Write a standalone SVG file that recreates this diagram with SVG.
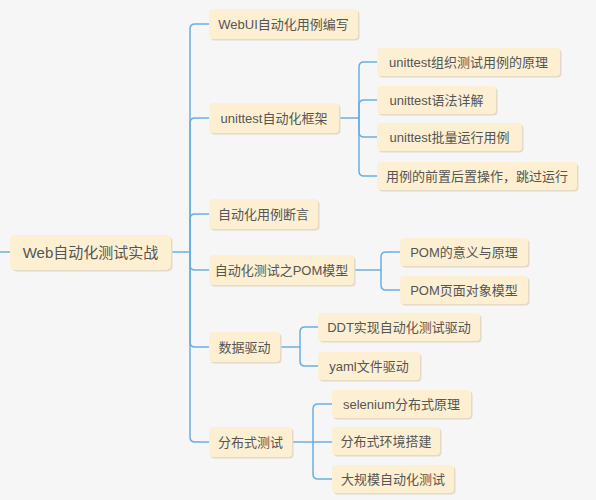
<svg xmlns="http://www.w3.org/2000/svg" width="596" height="500" viewBox="0 0 596 500">
<defs>
<style>
.bg{fill:#f6f6f6}
.box{fill:#fdf0d2;stroke:none}
.sh{fill:#e4dac6}
.t{font-family:"Liberation Sans","Noto Sans CJK SC",sans-serif;font-size:13px;fill:#555;text-anchor:middle;dominant-baseline:central}
.root{font-size:15px}
.c{fill:none;stroke:#6aaedf;stroke-width:1.5}
</style>
</defs>
<rect class="bg" x="0" y="0" width="596" height="500"/>
<g id="connectors">
<path class="c" d="M0 252 H10"/>
<path class="c" d="M171 252 H190 V29 Q190 24 195 24 H209"/>
<path class="c" d="M190 252 V123 Q190 118 195 118 H209"/>
<path class="c" d="M190 252 V219 Q190 214 195 214 H209"/>
<path class="c" d="M190 252 V265 Q190 270 195 270 H209"/>
<path class="c" d="M190 252 V342 Q190 347 195 347 H209"/>
<path class="c" d="M190 252 V437 Q190 442 195 442 H209"/>
<path class="c" d="M339 118 H359 V67 Q359 62 364 62 H377"/>
<path class="c" d="M359 118 V105 Q359 100 364 100 H377"/>
<path class="c" d="M359 118 V132 Q359 137 364 137 H377"/>
<path class="c" d="M359 118 V171 Q359 176 364 176 H377"/>
<path class="c" d="M354 270 H381 V257 Q381 252 386 252 H400"/>
<path class="c" d="M381 270 V285 Q381 290 386 290 H400"/>
<path class="c" d="M280 347 H300 V332 Q300 327 305 327 H318"/>
<path class="c" d="M300 347 V361 Q300 366 305 366 H318"/>
<path class="c" d="M292 442 H313 V409 Q313 404 318 404 H332"/>
<path class="c" d="M313 442 H332"/>
<path class="c" d="M313 442 V474 Q313 479 318 479 H332"/>
</g>
<g id="root"><rect class="sh" x="11.5" y="236.5" width="161" height="35" rx="5"/><rect class="box" x="10" y="235" width="161" height="35" rx="5"/><text class="t root" x="90.5" y="252.5">Web自动化测试实战</text></g>
<g id="n-webui"><rect class="sh" x="210.5" y="10.5" width="149" height="30" rx="4"/><rect class="box" x="209" y="9" width="149" height="30" rx="4"/><text class="t" x="283.5" y="24">WebUI自动化用例编写</text></g>
<g id="n-unittest"><rect class="sh" x="210.5" y="104.5" width="130" height="30" rx="4"/><rect class="box" x="209" y="103" width="130" height="30" rx="4"/><text class="t" x="274" y="118">unittest自动化框架</text></g>
<g id="n-assert"><rect class="sh" x="210.5" y="200.5" width="109" height="30" rx="4"/><rect class="box" x="209" y="199" width="109" height="30" rx="4"/><text class="t" x="263.5" y="214">自动化用例断言</text></g>
<g id="n-pom"><rect class="sh" x="210.5" y="256.5" width="145" height="30" rx="4"/><rect class="box" x="209" y="255" width="145" height="30" rx="4"/><text class="t" x="281.5" y="270">自动化测试之POM模型</text></g>
<g id="n-data"><rect class="sh" x="210.5" y="333.5" width="71" height="30" rx="4"/><rect class="box" x="209" y="332" width="71" height="30" rx="4"/><text class="t" x="244.5" y="347">数据驱动</text></g>
<g id="n-dist"><rect class="sh" x="210.5" y="428.5" width="83" height="30" rx="4"/><rect class="box" x="209" y="427" width="83" height="30" rx="4"/><text class="t" x="250.5" y="442">分布式测试</text></g>
<g id="n-u1"><rect class="sh" x="378.5" y="49.5" width="183" height="28" rx="4"/><rect class="box" x="377" y="48" width="183" height="28" rx="4"/><text class="t" x="468.5" y="62">unittest组织测试用例的原理</text></g>
<g id="n-u2"><rect class="sh" x="378.5" y="87.5" width="119" height="28" rx="4"/><rect class="box" x="377" y="86" width="119" height="28" rx="4"/><text class="t" x="436.5" y="100">unittest语法详解</text></g>
<g id="n-u3"><rect class="sh" x="378.5" y="124.5" width="145" height="28" rx="4"/><rect class="box" x="377" y="123" width="145" height="28" rx="4"/><text class="t" x="449.5" y="137">unittest批量运行用例</text></g>
<g id="n-u4"><rect class="sh" x="378.5" y="163.5" width="200" height="28" rx="4"/><rect class="box" x="377" y="162" width="200" height="28" rx="4"/><text class="t" x="477" y="176">用例的前置后置操作，跳过运行</text></g>
<g id="n-pom1"><rect class="sh" x="401.5" y="239.5" width="128" height="28" rx="4"/><rect class="box" x="400" y="238" width="128" height="28" rx="4"/><text class="t" x="464" y="252">POM的意义与原理</text></g>
<g id="n-pom2"><rect class="sh" x="401.5" y="277.5" width="128" height="28" rx="4"/><rect class="box" x="400" y="276" width="128" height="28" rx="4"/><text class="t" x="464" y="290">POM页面对象模型</text></g>
<g id="n-ddt"><rect class="sh" x="319.5" y="314.5" width="162" height="28" rx="4"/><rect class="box" x="318" y="313" width="162" height="28" rx="4"/><text class="t" x="399" y="327">DDT实现自动化测试驱动</text></g>
<g id="n-yaml"><rect class="sh" x="319.5" y="353.5" width="102" height="28" rx="4"/><rect class="box" x="318" y="352" width="102" height="28" rx="4"/><text class="t" x="369" y="366">yaml文件驱动</text></g>
<g id="n-sel"><rect class="sh" x="333.5" y="391.5" width="139" height="28" rx="4"/><rect class="box" x="332" y="390" width="139" height="28" rx="4"/><text class="t" x="401.5" y="404">selenium分布式原理</text></g>
<g id="n-env"><rect class="sh" x="333.5" y="428.5" width="108" height="28" rx="4"/><rect class="box" x="332" y="427" width="108" height="28" rx="4"/><text class="t" x="386" y="441">分布式环境搭建</text></g>
<g id="n-big"><rect class="sh" x="333.5" y="466.5" width="122" height="28" rx="4"/><rect class="box" x="332" y="465" width="122" height="28" rx="4"/><text class="t" x="393" y="479">大规模自动化测试</text></g>
</svg>
